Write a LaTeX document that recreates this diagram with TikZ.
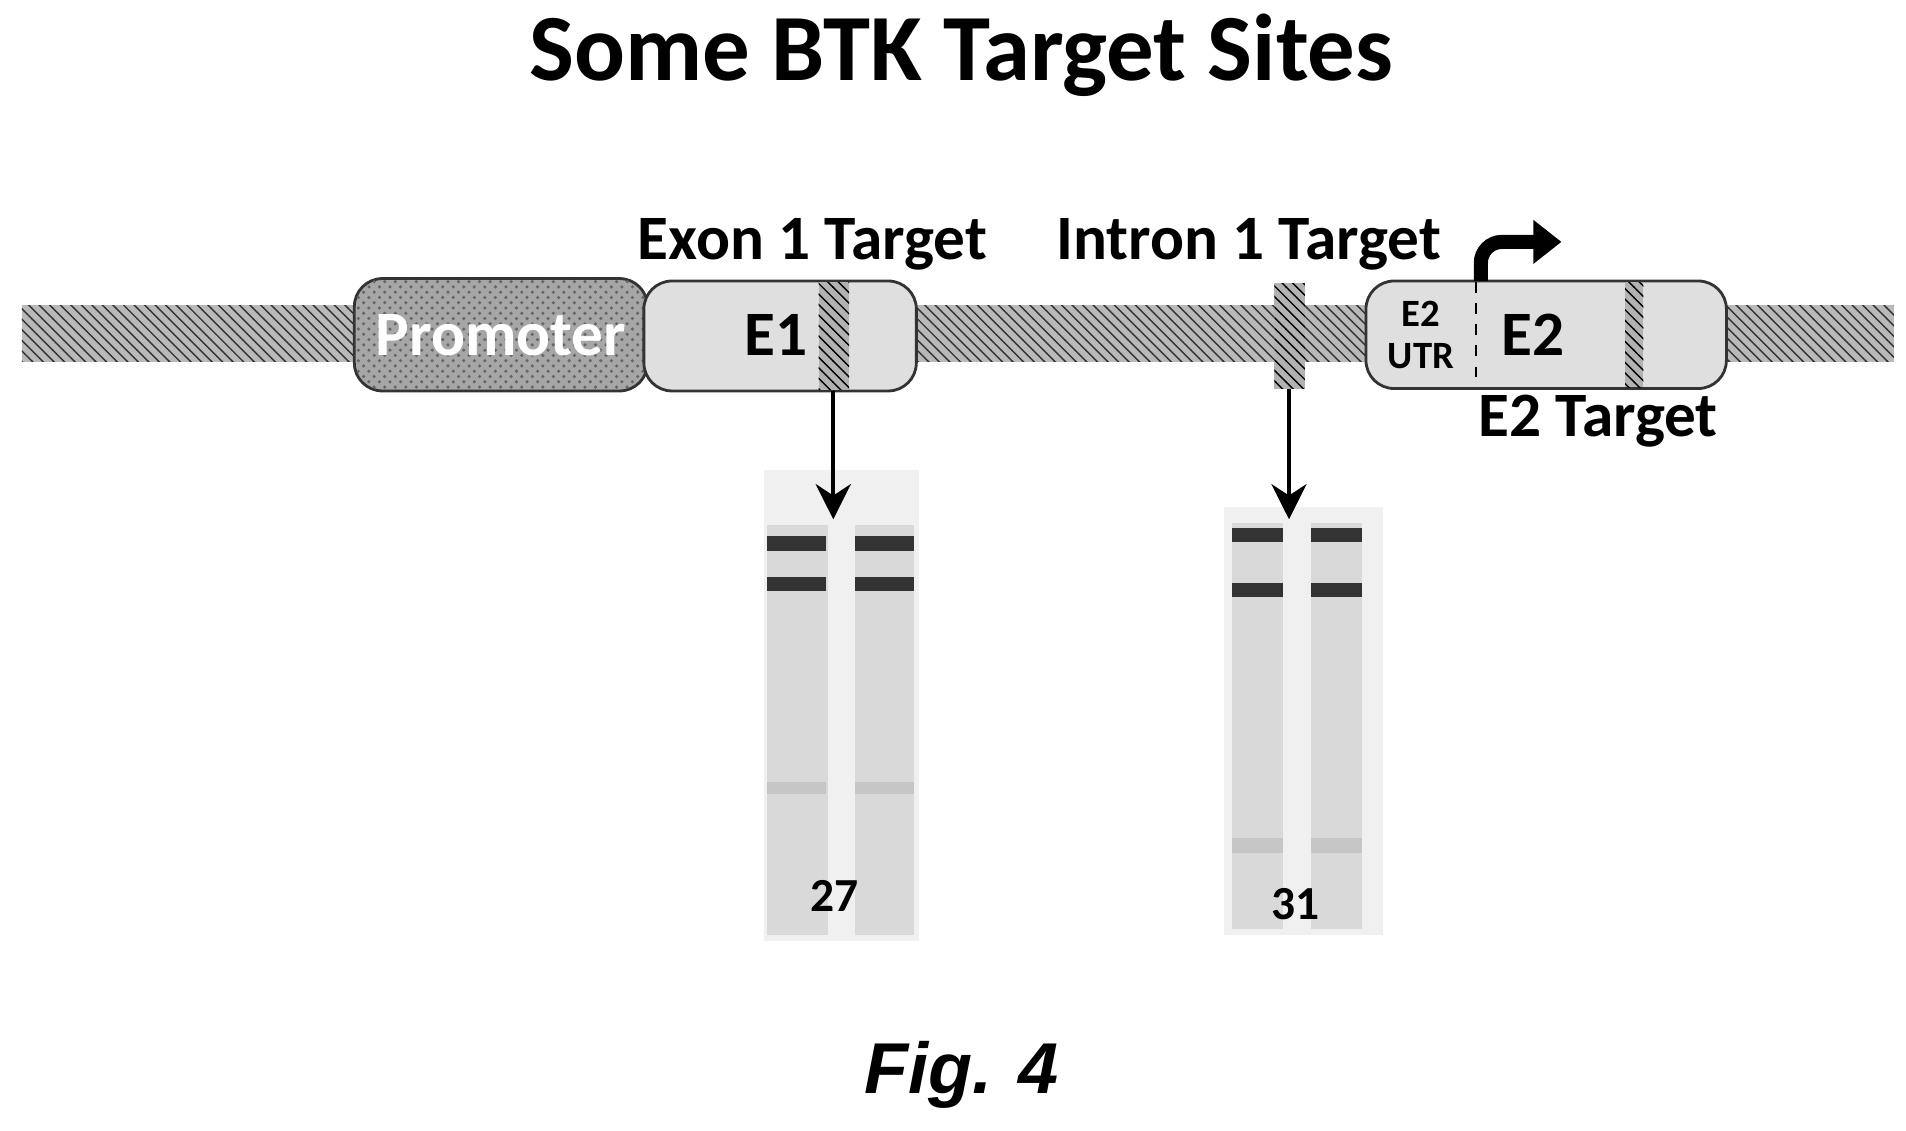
\documentclass[tikz,border=0pt]{standalone}
\usepackage{fontspec}
\setmainfont{Carlito}
\newfontfamily\figfont{Liberation Sans}
\usetikzlibrary{patterns,positioning,arrows.meta}
\tikzset{
  hatch/.style={fill=gray!55,pattern color=black!70},
  exon/.style={draw=black!80,thick,rounded corners=8pt,fill=gray!25},
  lbl/.style={font=\fontsize{18}{20}\selectfont\bfseries,inner sep=0pt},
  band/.style={fill=black!80},
  faint/.style={fill=gray!45},
  lane/.style={fill=gray!30},
  gel/.style={fill=gray!12},
  down/.style={-{Stealth[length=10pt,width=10pt]},very thick}
}
\begin{document}
\begin{tikzpicture}[x=0.01222cm,y=-0.01222cm]
\useasboundingbox (0,0) rectangle (1560,925);
% title
\node[font=\fontsize{27}{30}\selectfont\bfseries] (title) at (787,45) {Some BTK Target Sites};
% chromosome
\fill[gray!55] (18,250) rectangle (1550,296);
\fill[pattern=north west lines,pattern color=black!80] (18,250) rectangle (1550,296);
% promoter and exons
\draw[exon,fill=gray!70] (290,228) rectangle (530,320);
\fill[pattern=crosshatch dots,pattern color=black!60,rounded corners=8pt] (290,228) rectangle (530,320);
\node[lbl,text=white] (prom) at (410,274) {Promoter};
\draw[exon] (527,230) rectangle (750,320);
\fill[gray!60] (670,231) rectangle (695,319);
\fill[pattern=north west lines] (670,231) rectangle (695,319);
\node[lbl] (e1) at (635,274) {E1};
\node[lbl] (e1t) at (665,200) {Exon 1 Target};
\fill[gray!60] (1043,232) rectangle (1068,318);
\fill[pattern=north west lines] (1043,232) rectangle (1068,318);
\node[lbl] (i1t) at (1022,200) {Intron 1 Target};
\draw[exon] (1118,230) rectangle (1413,318);
\fill[gray!60] (1330,231) rectangle (1345,317);
\fill[pattern=north west lines] (1330,231) rectangle (1345,317);
\draw[dashed,thick] (1208,231) -- (1208,317);
\node[font=\fontsize{11}{12}\selectfont\bfseries,align=center,inner sep=0pt] (utr) at (1163,274) {E2\\UTR};
\node[lbl] (e2) at (1255,274) {E2};
\node[lbl] (e2t) at (1308,345) {E2 Target};
\coordinate (tss) at (1212,230);
\draw[line width=4pt,rounded corners=6pt,-{Triangle[length=8pt,width=12pt]}] (tss) -- (1212,198) -- (1278,198);
% gels
\draw[gel,draw=none] (625,385) rectangle (752,770);
\fill[lane] (628,430) rectangle (678,765);
\fill[lane] (700,430) rectangle (748,765);
\foreach \x in {628,700}{
  \fill[band] (\x,439) rectangle ++(48,12);
  \fill[band] (\x,472) rectangle ++(48,12);
  \fill[faint] (\x,640) rectangle ++(48,10);
}
\node[font=\fontsize{13.5}{15}\selectfont\bfseries] (g27) at (683,733) {27};
\fill[gel] (1002,415) rectangle (1132,765);
\fill[lane] (1008,428) rectangle (1050,760);
\fill[lane] (1073,428) rectangle (1115,760);
\foreach \x in {1008,1073}{
  \fill[band] (\x,432) rectangle ++(42,12);
  \fill[band] (\x,477) rectangle ++(42,12);
  \fill[faint] (\x,686) rectangle ++(42,12);
}
\node[font=\fontsize{13.5}{15}\selectfont\bfseries] (g31) at (1060,740) {31};
\coordinate (gt1) at (682,425);
\coordinate (gt2) at (1055,425);
\draw[down] (682,320) -- (gt1);
\draw[down] (1055,318) -- (gt2);
% caption
\node[font=\figfont\fontsize{20.5}{23}\selectfont\bfseries\itshape] (fig) at (787,880) {Fig. 4};
\end{tikzpicture}
\end{document}
